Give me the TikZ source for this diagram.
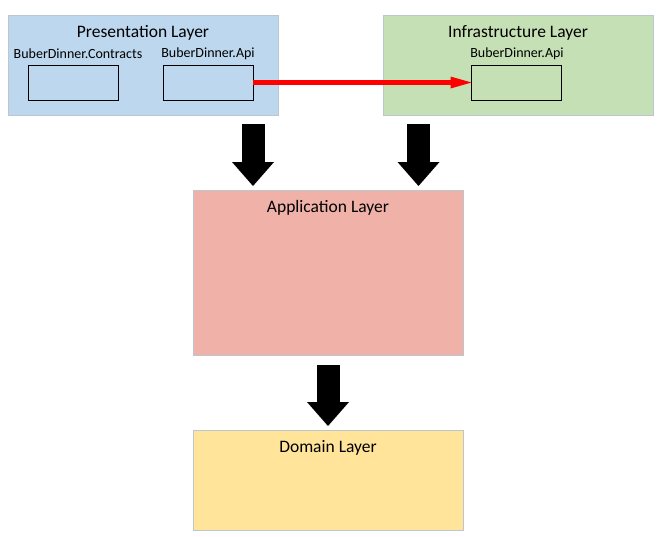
\documentclass[tikz,border=0pt]{standalone}
\usepackage{fontspec}
\setmainfont{Carlito}
\usetikzlibrary{arrows.meta}
\definecolor{presfill}{HTML}{BDD7EE}
\definecolor{infrafill}{HTML}{C5E0B4}
\definecolor{appfill}{HTML}{F0B2A8}
\definecolor{domfill}{HTML}{FFE499}
\definecolor{layerline}{HTML}{BCC6D0}
\tikzset{
  layer/.style={draw=layerline, line width=0.8pt, inner sep=0pt, outer sep=0pt, minimum width=270pt},
  inner/.style={draw=black, line width=0.9pt, inner sep=0pt, outer sep=0pt, minimum width=90pt, minimum height=35pt},
  title/.style={font=\fontsize{17.5}{20}\selectfont, inner sep=0pt},
  label/.style={font=\fontsize{14}{16}\selectfont, inner sep=0pt},
  blockarrow/.style={line width=23pt, -{Triangle[width=42pt,length=24pt,line width=0pt]}},
  redarrow/.style={red, line width=5pt, -{Triangle[width=12pt,length=21pt,line width=0pt]}}
}
\begin{document}
\begin{tikzpicture}[x=1pt,y=-1pt]
\useasboundingbox (0,0) rectangle (664,536);
% layers
\node[layer, fill=presfill, minimum height=100pt] (pres) at (143,65) {};
\node[layer, fill=infrafill, minimum height=100pt] (infra) at (518,65) {};
\node[layer, fill=appfill, minimum height=165pt] (app) at (328,272.5) {};
\node[layer, fill=domfill, minimum height=100pt] (dom) at (328,480) {};
% titles
\node[title] (prest) at (143,33) {Presentation Layer};
\node[title] (infrat) at (518,33) {Infrastructure Layer};
\node[title] (appt) at (328,208) {Application Layer};
\node[title] (domt) at (328,448) {Domain Layer};
% inner boxes
\node[label] (contl) at (78,54) {BuberDinner.Contracts};
\node[label] (apil) at (208,54) {BuberDinner.Api};
\node[label] (infral) at (517,54) {BuberDinner.Api};
\node[inner] (cont) at (73,82.5) {};
\node[inner] (api) at (208,82.5) {};
\node[inner] (infraapi) at (516.5,82.5) {};
% connectors
\draw[redarrow] (api.east) -- (infraapi.west);
\coordinate (a1) at (253,0);
\coordinate (a2) at (418.5,0);
\coordinate (a3) at (328,0);
\draw[blockarrow, shorten <=9pt, shorten >=4pt] (pres.south -| a1) -- (app.north -| a1);
\draw[blockarrow, shorten <=9pt, shorten >=4pt] (infra.south -| a2) -- (app.north -| a2);
\draw[blockarrow, shorten <=10pt, shorten >=4pt] (app.south -| a3) -- (dom.north -| a3);
\end{tikzpicture}
\end{document}
